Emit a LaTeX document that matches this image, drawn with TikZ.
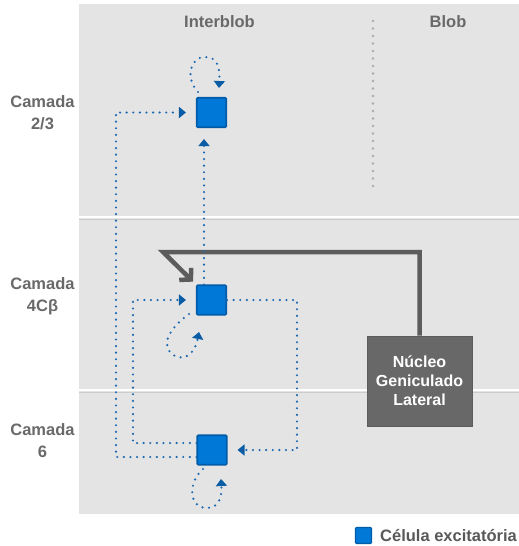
\documentclass[tikz,border=0pt]{standalone}
\usepackage{fontspec}
\setmainfont{Liberation Sans}
\usetikzlibrary{arrows.meta,calc}
\definecolor{bg}{RGB}{228,228,228}
\definecolor{cellfill}{RGB}{0,120,215}
\definecolor{celldraw}{RGB}{0,92,168}
\definecolor{dotblue}{RGB}{28,104,178}
\definecolor{tipblue}{RGB}{10,92,165}
\definecolor{lbl}{RGB}{105,105,105}
\definecolor{lgnfill}{RGB}{104,104,104}
\definecolor{lgnline}{RGB}{92,92,92}
\definecolor{sepdot}{RGB}{170,170,170}
\begin{document}
\begin{tikzpicture}[x=1pt,y=-1pt,
  cell/.style={draw=celldraw,fill=cellfill,line width=1.6pt,minimum size=29.5pt,inner sep=0pt,rounded corners=1pt},
  lbltext/.style={font=\fontsize{16.5}{22}\selectfont\bfseries,text=lbl,align=center,inner sep=0pt},
  dotline/.style={draw=dotblue,line width=2.4pt,dash pattern=on 0pt off 6.6pt,line cap=round},
  bluetip/.style={-{Triangle[length=7pt,width=11pt,fill=tipblue,color=tipblue]}},
  lgnarrow/.style={draw=lgnline,line width=4.5pt,-{Straight Barb[length=8pt,width=17pt,color=lgnline]}},
  lgnbox/.style={draw=lgnline,fill=lgnfill,line width=0.8pt,minimum width=105pt,minimum height=90pt,inner sep=0pt,
    text=white,font=\fontsize{16}{19}\selectfont\bfseries,align=center}
]
\useasboundingbox (0,0) rectangle (519,546);
% background
\fill[bg] (79,4) rectangle (519,514);
\draw[white,line width=2.5pt] (79,217) -- (519,217);
\draw[black!20,line width=0.6pt] (79,219) -- (519,219);
\draw[white,line width=2.5pt] (79,390) -- (519,390);
\draw[black!20,line width=0.6pt] (79,392) -- (519,392);
% column separator
\draw[sepdot,line width=2.6pt,dash pattern=on 0pt off 7.5pt,line cap=round] (373,21) -- (373,189);
% labels
\node[lbltext] (hint) at (219.5,22) {Interblob};
\node[lbltext] (hblob) at (448,22) {Blob};
\node[lbltext] (l23) at (42.5,113) {Camada\\2/3};
\node[lbltext] (l4) at (42.5,296) {Camada\\4Cβ};
\node[lbltext] (l6) at (42.5,441) {Camada\\6};
% cells
\node[cell] (c23) at (211.5,112.5) {};
\node[cell] (c4) at (211.5,300) {};
\node[cell] (c6) at (212,450) {};
% LGN
\node[lgnbox] (lgn) at (419.5,381) {Núcleo\\Geniculado\\Lateral};
\coordinate (corner) at (163,252);
\draw[lgnarrow,shorten >=4pt] (lgn.north) |- (corner) -- (c4.north west);
% dotted connectors
\coordinate (o1) at (116,457);
\coordinate (o2) at (116,112.5);
\coordinate (i1) at (133,443);
\coordinate (i2) at (133,300);
\coordinate (r1) at (297,300);
\coordinate (r2) at (297,450);
\coordinate (v) at (204,0);
\draw[dotline,bluetip,shorten >=10pt] (c6.west |- o1) -- (o1) -- (o2) -- (c23.west);
\draw[dotline,bluetip,shorten >=10pt] (c6.west |- i1) -- (i1) -- (i2) -- (c4.west);
\draw[dotline,bluetip,shorten >=11pt] (c4.north -| v) -- (c23.south -| v);
\draw[dotline,bluetip,shorten >=10pt] (c4.east) -- (r1) -- (r2) -- (c6.east);
% self loops
\draw[dotline,bluetip] (198,92) .. controls (185,78) and (190,57) .. (205,57) .. controls (218,57) and (220,68) .. (219,88);
\draw[dotline,bluetip] (189,314) .. controls (170,328) and (158,346) .. (175,356) .. controls (189,362) and (196,348) .. (199,332);
\draw[dotline,bluetip] (203,469) .. controls (188,482) and (188,508) .. (207,508) .. controls (220,508) and (222,495) .. (221,479);
% legend
\node[cell,minimum size=16pt,line width=1.2pt] (leg) at (363.5,535.5) {};
\node[lbltext,anchor=west,text=black!65] (legt) at (380,535.5) {Célula excitatória};
\end{tikzpicture}
\end{document}
